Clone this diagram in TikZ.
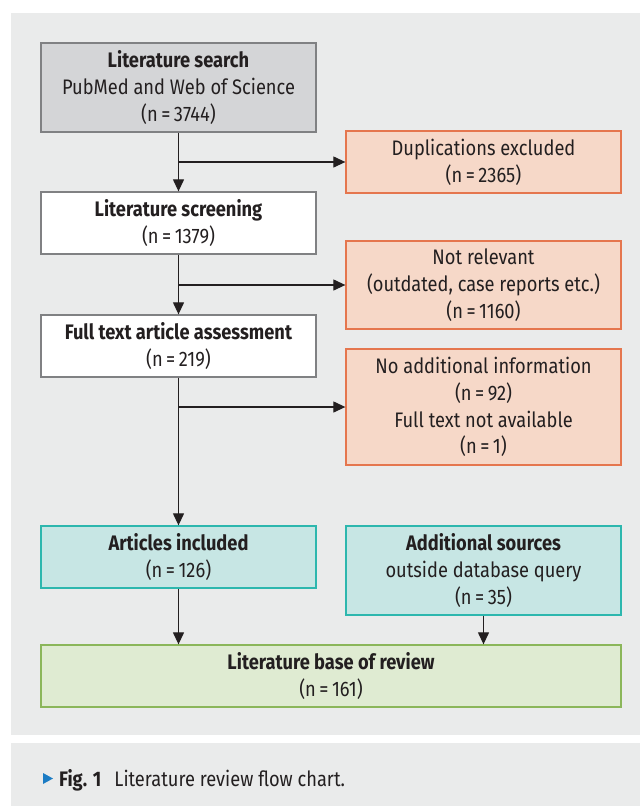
\documentclass[tikz,border=0pt]{standalone}
\usepackage{fontspec}
\setmainfont[FakeStretch=0.87]{Fira Sans}
\usetikzlibrary{arrows.meta,calc}
\definecolor{panelgray}{HTML}{EAEBEB}
\definecolor{searchfill}{HTML}{D4D5D7}
\definecolor{boxgray}{HTML}{808183}
\definecolor{exclfill}{HTML}{F6D8C8}
\definecolor{excldraw}{HTML}{E5764E}
\definecolor{inclfill}{HTML}{C7E6E4}
\definecolor{incldraw}{HTML}{2DB7AE}
\definecolor{basefill}{HTML}{DFEBD2}
\definecolor{basedraw}{HTML}{8BB65A}
\definecolor{figblue}{HTML}{1C7CC4}
\definecolor{inkgray}{HTML}{231F20}
\newcommand{\nval}[1]{(n\kern3.5pt=\kern3.5pt#1)}

\begin{document}
\begin{tikzpicture}[x=1pt,y=-1pt,
    flowbox/.style={draw=boxgray,line width=1.3pt,fill=white,inner sep=0pt,align=center,
        minimum width=275pt,text=inkgray,font=\fontsize{21}{26.8}\selectfont},
    searchbox/.style={flowbox,fill=searchfill},
    exclbox/.style={flowbox,draw=excldraw,fill=exclfill},
    inclbox/.style={flowbox,draw=incldraw,fill=inclfill},
    basebox/.style={flowbox,draw=basedraw,fill=basefill,minimum width=580pt},
    arr/.style={-{Triangle[length=12pt,width=11pt]},line width=1.2pt,draw=inkgray}]
        \useasboundingbox(0,0)rectangle(640,806);
        \fill[panelgray](11,13)rectangle(640,735);
        \fill[panelgray](11,743)rectangle(640,806);
        % main column
        \node[searchbox,minimum height=89pt](search)at(178.5,87.5){\textbf{Literature search}\\PubMed and Web of Science\\\nval{3744}};
        \node[flowbox,minimum height=62pt](screen)at(178.5,223){\textbf{Literature screening}\\\nval{1379}};
        \node[flowbox,minimum height=62pt](fulltext)at(178.5,346){\textbf{Full text article assessment}\\\nval{219}};
        \node[inclbox,minimum height=62pt](incl)at(178.5,557){\textbf{Articles included}\\\nval{126}};
        % exclusions
        \node[exclbox,minimum height=62pt](dup)at(483.5,162){Duplications excluded\\\nval{2365}};
        \node[exclbox,minimum height=88pt](notrel)at(483.5,285){Not relevant\\(outdated, case reports etc.)\\\nval{1160}};
        \node[exclbox,minimum height=116pt](noadd)at(483.5,407){No additional information\\\nval{92}\\Full text not available\\\nval{1}};
        \node[inclbox,minimum height=89pt](addsrc)at(483.5,570.5){\textbf{Additional sources}\\outside database query\\\nval{35}};
        \node[basebox,minimum height=62pt](base)at(331,676){\textbf{Literature base of review}\\\nval{161}};
        % arrows
        \draw[arr](search)--(screen);
        \draw[arr](screen)--(fulltext);
        \draw[arr](fulltext)--(incl);
        \draw[arr](search.south|-dup.west)--(dup.west);
        \draw[arr](screen.south|-notrel.west)--(notrel.west);
        \draw[arr](fulltext.south|-noadd.west)--(noadd.west);
        \draw[arr](incl)--(incl.south|-base.north);
        \draw[arr](addsrc)--(addsrc.south|-base.north);
        % caption
        \fill[figblue](43,773)--(53,778.5)--(43,784)--cycle;
        \node[anchor=base west,inner sep=0pt,text=inkgray,font=\fontsize{21}{24}\selectfont](caption)at(59,786){\textbf{Fig. 1}\hspace{13pt}Literature review flow chart.};
\end{tikzpicture}
\end{document}
